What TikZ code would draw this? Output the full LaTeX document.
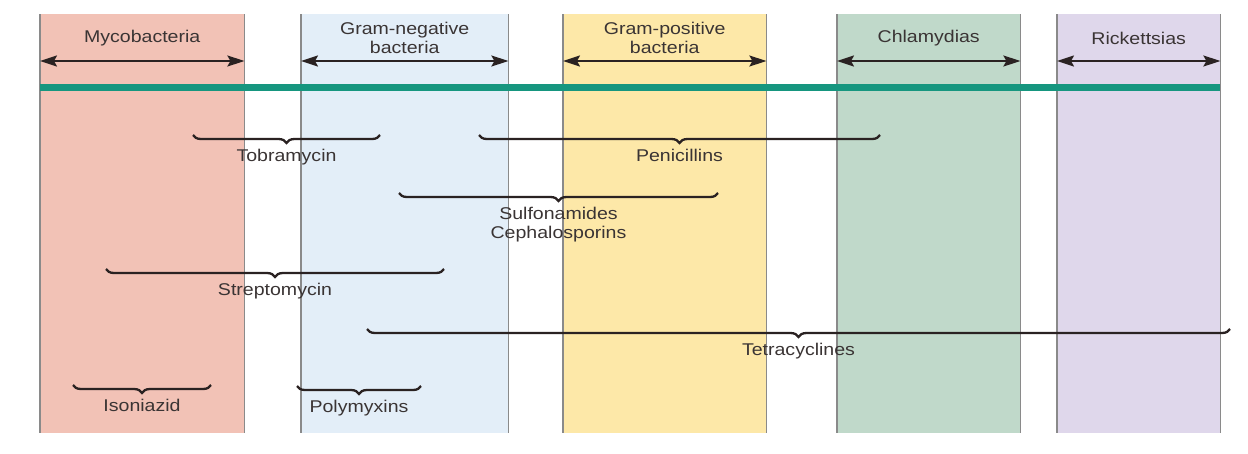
\documentclass[tikz,border=0pt]{standalone}
\usepackage{fontspec}
\setmainfont[FakeStretch=1.15]{Liberation Sans}
\usepackage{xcolor}
\usetikzlibrary{arrows.meta,decorations.pathreplacing,calc}

\definecolor{mycofill}{HTML}{F2C2B6}
\definecolor{negfill}{HTML}{E3EEF8}
\definecolor{posfill}{HTML}{FDE8A8}
\definecolor{chlamfill}{HTML}{C0D9CA}
\definecolor{rickfill}{HTML}{DFD7EB}
\definecolor{edgegray}{HTML}{8A8A8A}
\definecolor{tealline}{HTML}{16967F}
\definecolor{inkdark}{HTML}{2A2222}
\definecolor{labeltext}{HTML}{3A3434}

\begin{document}
\begin{tikzpicture}[x=1pt,y=-1pt,>={Stealth[length=17pt,width=11pt,inset=3pt]},font=\fontsize{17}{19}\selectfont,text=labeltext]
		\tikzstyle{band}=[rectangle, draw=none, inner sep=0pt, anchor=north west, minimum height=419pt]
		\tikzstyle{bandedge}=[draw=edgegray, line width=1.4pt]
		\tikzstyle{span}=[<->, draw=inkdark, line width=2pt]
		\tikzstyle{bandlabel}=[align=center, inner sep=1pt]
		\tikzstyle{drug}=[draw=inkdark, line width=2.3pt, decorate, decoration={brace, mirror, amplitude=8pt}]
		\tikzstyle{druglabel}=[anchor=north, align=center, inner sep=1pt, yshift=-13pt]
		
		\useasboundingbox (0,0) rectangle (1248,453);
		
		% bacteria groups
		\node[band, fill=mycofill, minimum width=204pt] (myco)  at (40,14)   {};
		\node[band, fill=negfill, minimum width=207pt]  (neg)   at (301,14)  {};
		\node[band, fill=posfill, minimum width=203pt]  (pos)   at (563,14)  {};
		\node[band, fill=chlamfill, minimum width=183pt] (chlam) at (837,14) {};
		\node[band, fill=rickfill, minimum width=163pt] (rick)  at (1057,14) {};
		
		\foreach \b in {myco,neg,pos,chlam,rick} {
			\draw[bandedge] (\b.north west) -- (\b.south west);
			\draw[bandedge] (\b.north east) -- (\b.south east);
			\draw[span] ([yshift=-47pt]\b.north west) -- ([yshift=-47pt]\b.north east);
		}
		
		\node[bandlabel] (myco-t)  at ([yshift=-24pt]myco.north)  {Mycobacteria};
		\node[bandlabel] (neg-t)   at ([yshift=-24pt]neg.north)   {Gram-negative\\bacteria};
		\node[bandlabel] (pos-t)   at ([yshift=-24pt]pos.north)   {Gram-positive\\bacteria};
		\node[bandlabel] (chlam-t) at ([yshift=-24pt]chlam.north) {Chlamydias};
		\node[bandlabel] (rick-t)  at ([yshift=-24pt]rick.north)  {Rickettsias};
		
		\draw[draw=tealline, line width=7pt] ([yshift=-73pt]myco.north west) -- ([yshift=-73pt]rick.north east);
		
		% antibiotics
		\foreach \nm/\xa/\xb/\yy/\lbl in {tobra/193/380/135/Tobramycin, peni/479/880/135/Penicillins, sulfo/399/718/193/{Sulfonamides\\Cephalosporins}, strep/106/444/269/Streptomycin, tetra/367/1230/329/Tetracyclines, iso/73/211/385/Isoniazid, poly/297/421/386/Polymyxins} {
			\coordinate (\nm-l) at (\xa,\yy);
			\coordinate (\nm-r) at (\xb,\yy);
			\draw[drug] (\nm-l) -- (\nm-r);
			\node[druglabel] (\nm) at ($(\nm-l)!0.5!(\nm-r)$) {\lbl};
		}
\end{tikzpicture}
\end{document}
